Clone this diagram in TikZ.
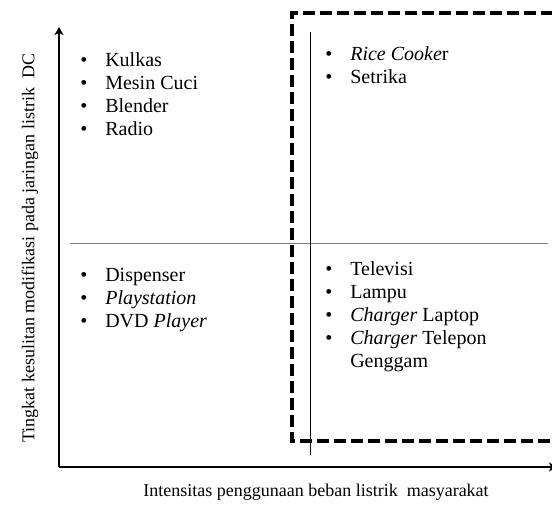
\documentclass[tikz,border=0pt]{standalone}
\usepackage{fontspec}
\setmainfont{Liberation Serif}
\usetikzlibrary{arrows.meta}
\begin{document}
\begin{tikzpicture}[x=1pt, y=-1pt, semithick,
    item/.style={anchor=north west, inner sep=0pt, font=\fontsize{20}{23}\selectfont},
    axislabel/.style={inner sep=0pt, font=\fontsize{18}{21}\selectfont},
    axis/.style={-{Stealth[length=8pt, width=9pt, inset=2pt]}, line width=1.6pt}]

      \useasboundingbox (0,0) rectangle (552,504);

      % Define axes
      \coordinate (o) at (59,467);
      \coordinate (ytop) at (59,27);
      \coordinate (xend) at (557,467);
      \draw[axis] (o) -- (ytop);
      \draw[axis] (o) -- (xend);

      % Define quadrant lines
      \coordinate (hl) at (70,243);
      \coordinate (hr) at (548,243);
      \coordinate (vt) at (310,32);
      \coordinate (vb) at (310,455);
      \draw[gray, thin] (hl) -- (hr);
      \draw[thin] (vt) -- (vb);

      % Define dashed region
      \coordinate (d1) at (562,13);
      \coordinate (d2) at (292,13);
      \coordinate (d3) at (292,441);
      \coordinate (d4) at (562,441);
      \draw[line width=4pt, dash pattern=on 12pt off 5pt, dash phase=8pt] (d1) -- (d2) -- (d3) -- (d4);

      % Define quadrants
      \node[item] (tl) at (80,50) {\begin{tabular}{@{}l@{\hspace{18pt}}l@{}}
        \textbullet & Kulkas\\
        \textbullet & Mesin Cuci\\
        \textbullet & Blender\\
        \textbullet & Radio
      \end{tabular}};
      \node[item] (tr) at (325,44) {\begin{tabular}{@{}l@{\hspace{18pt}}l@{}}
        \textbullet & \textit{Rice Cooke}r\\
        \textbullet & Setrika
      \end{tabular}};
      \node[item] (bl) at (80,265) {\begin{tabular}{@{}l@{\hspace{18pt}}l@{}}
        \textbullet & Dispenser\\
        \textbullet & \textit{Playstation}\\
        \textbullet & DVD \textit{Player}
      \end{tabular}};
      \node[item] (br) at (325,259) {\begin{tabular}{@{}l@{\hspace{18pt}}l@{}}
        \textbullet & Televisi\\
        \textbullet & Lampu\\
        \textbullet & \textit{Charger} Laptop\\
        \textbullet & \textit{Charger} Telepon\\
                    & Genggam
      \end{tabular}};

      % Define labels
      \node[axislabel, rotate=90] (ylabel) at (30,248) {Tingkat kesulitan modifikasi pada jaringan listrik~ DC};
      \node[axislabel] (xlabel) at (316,492) {Intensitas penggunaan beban listrik~ masyarakat};

    \end{tikzpicture}
\end{document}
